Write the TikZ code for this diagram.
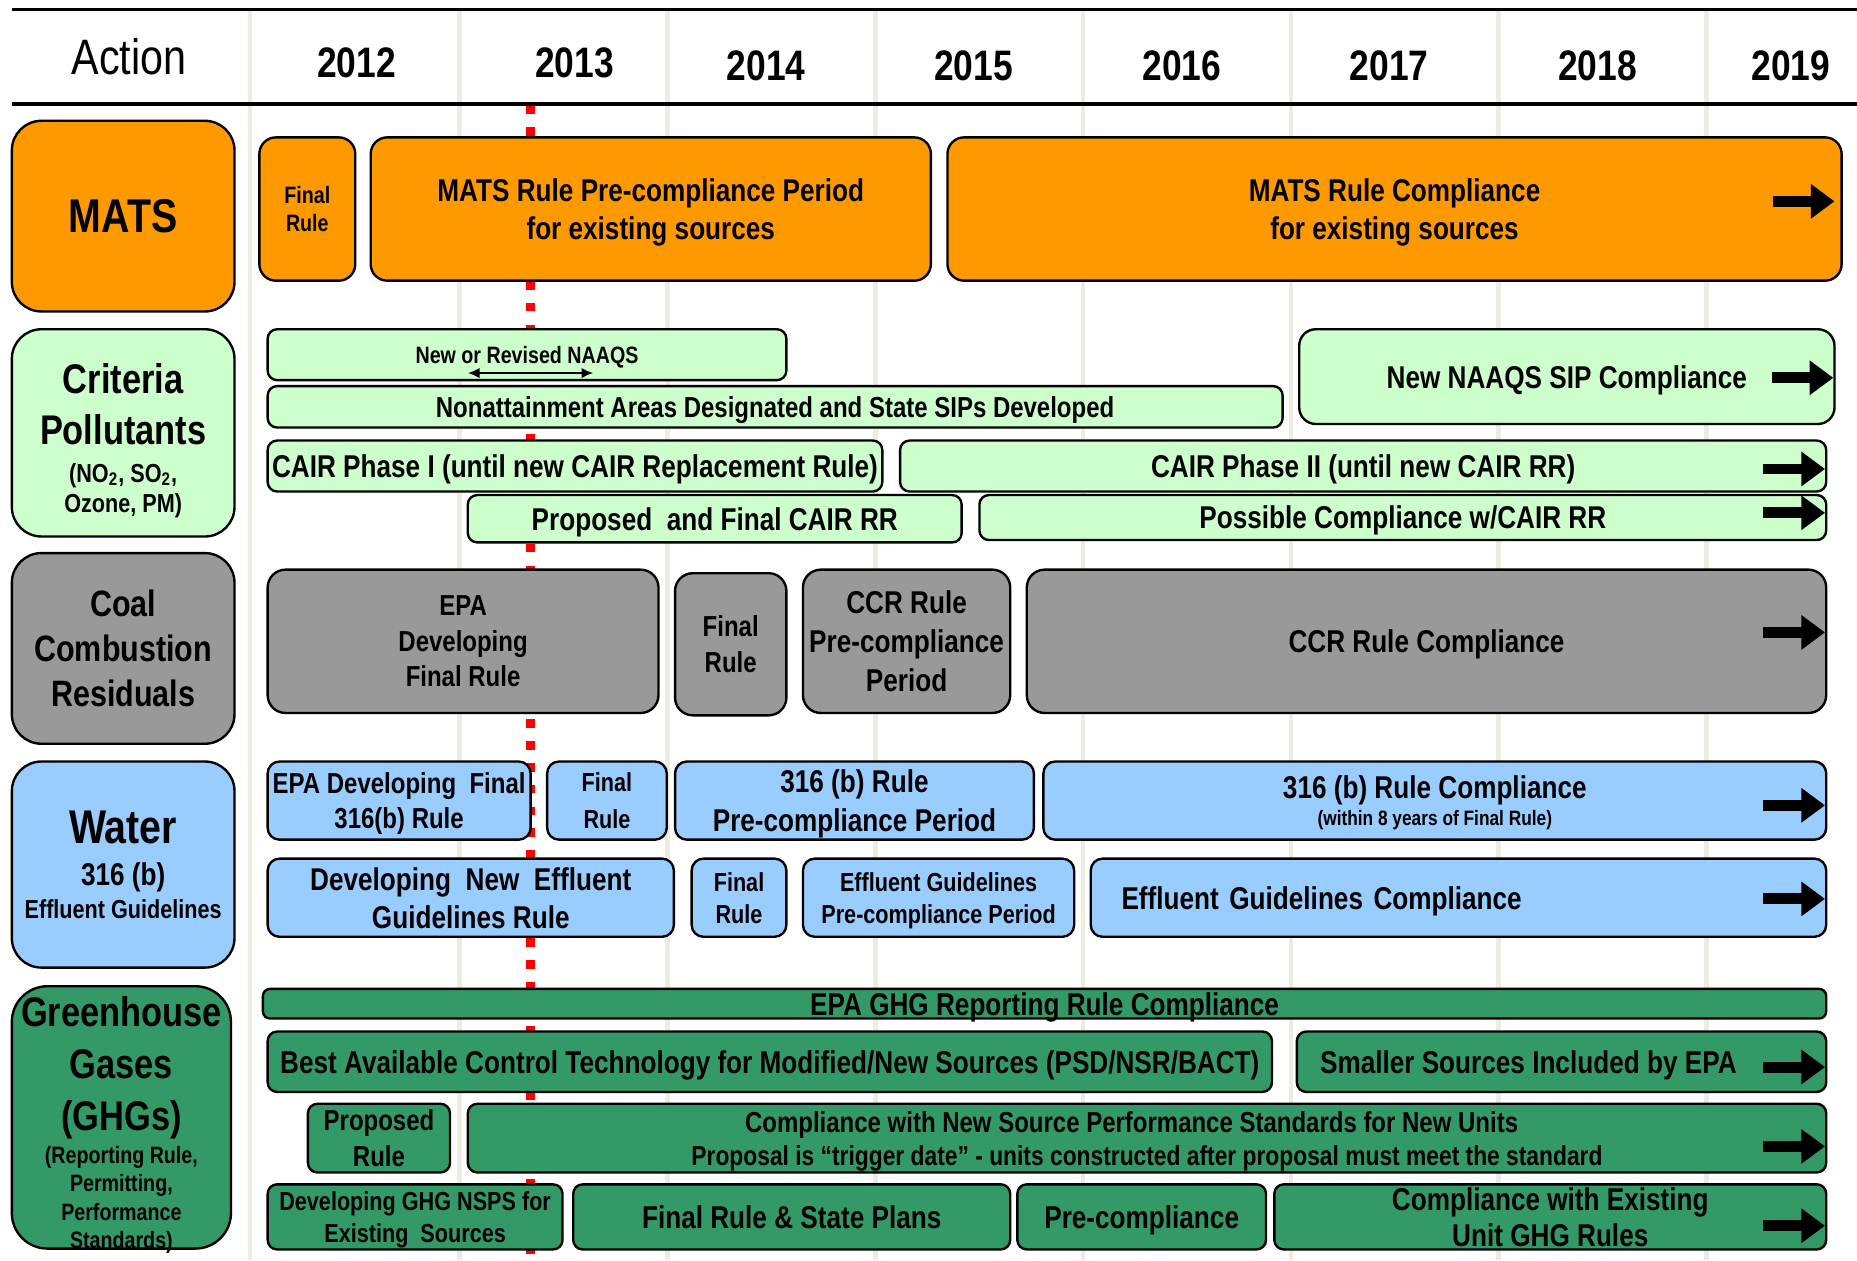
\documentclass[tikz,border=0pt]{standalone}
\usepackage{fontspec}
\setmainfont{Liberation Sans}[FakeStretch=0.83]
\usetikzlibrary{arrows.meta}
\definecolor{matsorange}{HTML}{FF9900}
\definecolor{critgreen}{HTML}{CCFFCC}
\definecolor{ccrgray}{HTML}{999999}
\definecolor{waterblue}{HTML}{99CCFF}
\definecolor{ghggreen}{HTML}{339966}
\definecolor{yeargrid}{HTML}{EEECE1}
\newcommand{\fz}[2]{\fontsize{#1}{#2}\selectfont\bfseries}
\tikzstyle{cat} =
[rectangle, rounded corners=12.5pt, draw=black, line width=1pt,
align=center, inner sep=0pt]
\tikzstyle{tbar} =
[rectangle, rounded corners=5pt, draw=black, line width=1pt,
align=center, inner sep=0pt, text depth=0pt, font=\fz{13.3}{16}]
\tikzstyle{matsbar} = [tbar, rounded corners=7pt, fill=matsorange]
\tikzstyle{critbar} = [tbar, rounded corners=4pt, fill=critgreen]
\tikzstyle{ccrbar} = [tbar, rounded corners=7.5pt, fill=ccrgray]
\tikzstyle{waterbar} = [tbar, rounded corners=5pt, fill=waterblue]
\tikzstyle{ghgbar} = [tbar, rounded corners=4pt, fill=ghggreen]
\tikzstyle{year} = [font=\fz{18}{20}]
\tikzstyle{fwd} = [line width=4.6pt, -{Triangle[length=10pt, width=14pt]}]
\tikzstyle{twoway} =
[line width=1.2pt, {Latex[length=5pt, width=4.5pt]}-{Latex[length=5pt, width=4.5pt]}]
% box from corner (#3,#4) to corner (#5,#6)
\newcommand{\tlbar}[7]{\node [#1, minimum width={(#5-#3)*0.5pt},
  minimum height={(#6-#4)*0.5pt}] (#2) at ({(#3+#5)/2},{(#4+#6)/2}) {#7};}
\newcommand{\goon}[2]{\draw [fwd] ([xshift=-27pt,yshift=#2]#1.east)
  -- ([xshift=-1pt,yshift=#2]#1.east);}

\begin{document}
\begin{tikzpicture}[x=0.5pt, y=-0.5pt]
  \useasboundingbox (0,0) rectangle (1568,1064);
  % grid and header
  \foreach \x in {211,388,563.5,739,914.5,1090,1265.5,1441}
    \draw [yeargrid, line width=2pt] (\x,8) -- (\x,1064);
  \draw [red, line width=3.5pt, dash pattern=on 3.75pt off 5.5pt]
    (448,89) -- (448,1064);
  \draw [line width=1.5pt] (10,8) -- (1568,8);
  \draw [line width=1.5pt] (10,88) -- (1568,88);
  \node [font=\fontsize{21}{24}\selectfont] (action) at (109,48) {Action};
  \foreach \yr/\x/\y in {2012/301/53, 2013/485/53, 2014/647/56, 2015/822/56,
      2016/998/56, 2017/1173/56, 2018/1349/56, 2019/1512/56}
    \node [year] (y\yr) at (\x,\y) {\yr};
  %
  % MATS
  \tlbar{cat, fill=matsorange, font=\fz{20}{24}}{mats}{10}{102}{198}{263}{MATS}
  \tlbar{matsbar, font=\fz{10}{12}}{matsfinal}{219}{116}{300}{237}{Final\\Rule}
  \tlbar{matsbar}{matspre}{313}{116}{786}{237}
    {MATS Rule Pre-compliance Period\\for existing sources}
  \tlbar{matsbar}{matscomp}{800}{116}{1555}{237}
    {MATS Rule Compliance\\for existing sources}
  \draw [fwd] ([xshift=-29.5pt,yshift=3.25pt]matscomp.east)
    -- ([xshift=-3.5pt,yshift=3.25pt]matscomp.east);
  %
  % criteria pollutants
  \tlbar{cat, fill=critgreen, text depth=0pt, font=\fz{17.5}{21.5}}{crit}{10}{278}{198}{453}
    {\rule{0pt}{17pt}Criteria\\Pollutants\\[-5.5pt]\fz{11}{13}(NO\textsubscript{2}, SO\textsubscript{2},\\[-8.5pt]
     \fz{11}{13}Ozone, PM)}
  \tlbar{critbar, font=\fz{10}{12}}{naaqs}{226}{278}{664}{321}{New or Revised NAAQS}
  \draw [twoway] ([xshift=-25pt,yshift=3.5pt]naaqs.south)
    -- ([xshift=28pt,yshift=3.5pt]naaqs.south);
  \tlbar{critbar, font=\fz{12.2}{14}}{nonatt}{226}{326}{1083}{361}
    {Nonattainment Areas Designated and State SIPs Developed}
  \tlbar{critbar, rounded corners=7pt}{sipcomp}{1097}{278}{1549}{358}
    {New NAAQS SIP Compliance}
  \tlbar{critbar}{cairone}{226}{372}{745}{415}
    {CAIR Phase I (until new CAIR Replacement Rule)}
  \tlbar{critbar}{cairtwo}{760}{372}{1542}{415}{CAIR Phase II (until new CAIR RR)}
  \tlbar{critbar}{cairrr}{395}{418}{812}{458}{Proposed\ \ and Final CAIR RR}
  \tlbar{critbar}{cairposs}{827}{418}{1542}{456}{Possible Compliance w/CAIR RR}
  \goon{sipcomp}{-0.5pt}
  \goon{cairtwo}{-1.25pt}
  \goon{cairposs}{2pt}
  %
  % coal combustion residuals
  \tlbar{cat, fill=ccrgray, font=\fz{15.5}{19}}{ccr}{10}{467}{198}{628}
    {Coal\\Combustion\\Residuals}
  \tlbar{ccrbar, font=\fz{12.2}{15}}{ccrdev}{226}{481}{556}{602}
    {EPA\\Developing\\Final Rule}
  \tlbar{ccrbar, font=\fz{12.2}{15}}{ccrfinal}{570}{484}{664}{604}{Final\\Rule}
  \tlbar{ccrbar, font=\fz{13.3}{16.5}}{ccrpre}{678}{481}{853}{602}
    {CCR Rule\\Pre-compliance\\Period}
  \tlbar{ccrbar}{ccrcomp}{867}{481}{1542}{602}{CCR Rule Compliance}
  \goon{ccrcomp}{3.75pt}
  %
  % water
  \tlbar{cat, fill=waterblue, font=\fz{20}{24}}{water}{10}{643}{198}{817}
    {Water\\[-6.25pt]\fz{13.3}{15}316 (b)\\[-10.25pt]\fz{11}{13}Effluent Guidelines}
  \tlbar{waterbar, font=\fz{12.2}{14.5}}{wdev}{226}{643}{448}{709}
    {EPA Developing\ \ Final\\316(b) Rule}
  \tlbar{waterbar, font=\fz{11}{15.5}}{wfinal}{462}{643}{563}{709}{Final\\Rule}
  \tlbar{waterbar, font=\fz{13.3}{16.5}}{wpre}{570}{643}{873}{709}
    {316 (b) Rule\\Pre-compliance Period}
  \tlbar{waterbar, font=\fz{13.3}{11.5}}{wcomp}{881}{643}{1542}{709}
    {316 (b) Rule Compliance\\\fz{8.8}{11.5}(within 8 years of Final Rule)}
  \tlbar{waterbar}{efdev}{226}{725}{569}{791}
    {Developing\ \ New\ \ Effluent\\Guidelines Rule}
  \tlbar{waterbar, font=\fz{11}{13.5}}{effinal}{584}{725}{664}{791}{Final\\Rule}
  \tlbar{waterbar, font=\fz{11}{13.5}}{efpre}{678}{725}{907}{791}
    {Effluent Guidelines\\Pre-compliance Period}
  \tlbar{waterbar, text width=284.5pt, align=left}{efcomp}{921}{725}{1542}{791}
    {Effluent Guidelines Compliance}
  \goon{wcomp}{-2pt}
  \goon{efcomp}{-0.5pt}
  %
  % greenhouse gases
  \tlbar{cat, fill=ghggreen, rounded corners=15pt, text depth=0pt, font=\fz{17.5}{22}}{ghg}{10}{835}{195}{1052}
    {\rule{0pt}{17pt}Greenhouse\\Gases\\(GHGs)\\[-8.25pt]\fz{10}{12}(Reporting Rule,\\[-10pt]
     \fz{10}{12}Permitting,\\[-10pt]\fz{10}{12}Performance\\[-10pt]\fz{10}{12}Standards)}
  \tlbar{ghgbar, rounded corners=3pt}{ghgrep}{222}{835}{1542}{860}
    {EPA GHG Reporting Rule Compliance}
  \tlbar{ghgbar}{bact}{226}{871}{1074}{922}
    {Best Available Control Technology for Modified/New Sources (PSD/NSR/BACT)}
  \tlbar{ghgbar}{smaller}{1095}{871}{1542}{922}
    {Smaller Sources Included by EPA\hspace*{28pt}}
  \tlbar{ghgbar, font=\fz{12.2}{15.5}}{nspsprop}{260}{932}{380}{990}{Proposed\\Rule}
  \tlbar{ghgbar, font=\fz{12.2}{14}}{nspsnew}{395}{932}{1542}{990}
    {Compliance with New Source Performance Standards for New Units\hspace*{13pt}\\
     \fz{11.6}{14}Proposal is “trigger date” - units constructed after proposal must meet the standard}
  \tlbar{ghgbar, font=\fz{11}{13.5}}{nspsdev}{226}{1000}{475}{1055}
    {Developing GHG NSPS for\\Existing\ \ Sources}
  \tlbar{ghgbar}{nspsfinal}{484}{1000}{853}{1055}{Final Rule \& State Plans}
  \tlbar{ghgbar}{nspspre}{859}{1000}{1069}{1055}{Pre-compliance}
  \tlbar{ghgbar, font=\fz{13.3}{15}}{nspscomp}{1076}{1000}{1542}{1055}
    {Compliance with Existing\\Unit GHG Rules}
  \goon{smaller}{-2.25pt}
  \goon{nspsnew}{-3.5pt}
  \goon{nspscomp}{-3.75pt}
\end{tikzpicture}
\end{document}
